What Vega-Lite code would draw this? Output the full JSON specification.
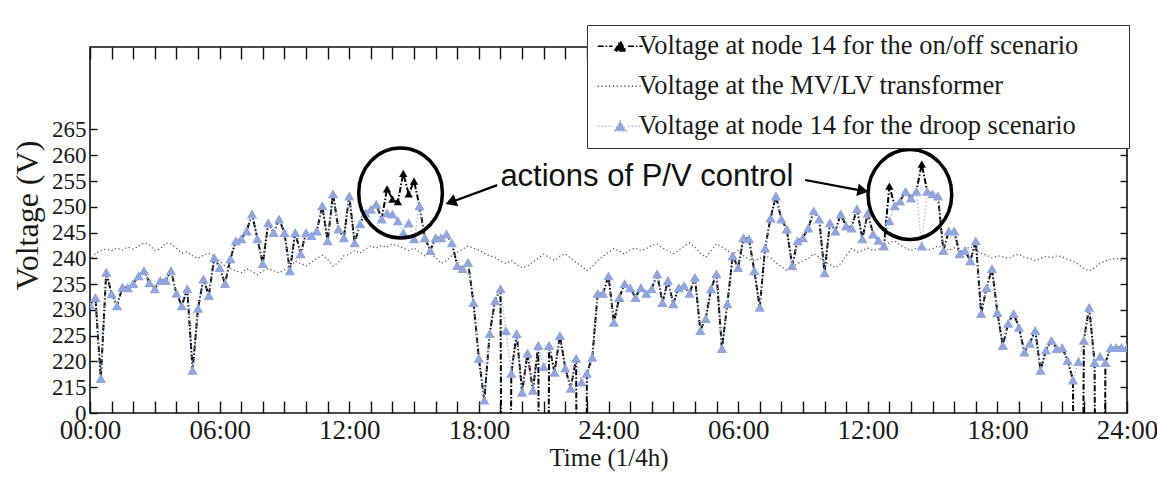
{
"$schema": "https://vega.github.io/schema/vega-lite/v6.json",
"width": 1037, "height": 366,
"autosize": "none",
"padding": {"left": 90, "top": 47, "right": 30, "bottom": 68},
"background": "white",
"config": {"view": {"stroke": "#111", "strokeWidth": 1.6}, "font": "Liberation Serif"},
"data": {"values": [
{"t":0,"o":231,"d":231,"m":239.5},{"t":1,"o":232.4,"d":232.4,"m":241},{"t":2,"o":216.7,"d":216.7,"m":241.5},{"t":3,"o":237.3,"d":237.3,"m":241.8},{"t":4,"o":233.1,"d":233.1,"m":241.5},{"t":5,"o":230.8,"d":230.8,"m":242},{"t":6,"o":234.4,"d":234.4,"m":241.6},{"t":7,"o":234.3,"d":234.3,"m":242.2},{"t":8,"o":235.1,"d":235.1,"m":241.8},
{"t":9,"o":236.6,"d":236.6,"m":242.4},{"t":10,"o":237.6,"d":237.6,"m":243},{"t":11,"o":235.3,"d":235.3,"m":242.6},{"t":12,"o":234.1,"d":234.1,"m":241.5},{"t":13,"o":235.7,"d":235.7,"m":241.8},{"t":14,"o":235.7,"d":235.7,"m":243},{"t":15,"o":237.6,"d":237.6,"m":242.8},{"t":16,"o":233.2,"d":233.2,"m":242},
{"t":17,"o":230.8,"d":230.8,"m":241},{"t":18,"o":234.1,"d":234.1,"m":241.3},{"t":19,"o":218.3,"d":218.3,"m":240.5},{"t":20,"o":230.3,"d":230.3,"m":240},{"t":21,"o":236,"d":236,"m":240.6},{"t":22,"o":232.8,"d":232.8,"m":241},{"t":23,"o":240.1,"d":240.1,"m":240.5},{"t":24,"o":238.2,"d":238.2,"m":239.5},
{"t":25,"o":235.1,"d":235.1,"m":238.5},{"t":26,"o":239.9,"d":239.9,"m":238},{"t":27,"o":243.4,"d":243.4,"m":237.6},{"t":28,"o":243.8,"d":243.8,"m":237.2},{"t":29,"o":245.3,"d":245.3,"m":238},{"t":30,"o":248.6,"d":248.6,"m":237.5},{"t":31,"o":243.8,"d":243.8,"m":236.8},{"t":32,"o":239,"d":239,"m":237.5},
{"t":33,"o":246.9,"d":246.9,"m":238},{"t":34,"o":245,"d":245,"m":237.6},{"t":35,"o":247.6,"d":247.6,"m":237.2},{"t":36,"o":245,"d":245,"m":237.8},{"t":37,"o":237.6,"d":237.6,"m":238.3},{"t":38,"o":245,"d":245,"m":239.5},{"t":39,"o":240.9,"d":240.9,"m":239},{"t":40,"o":245,"d":245,"m":238.5},
{"t":41,"o":244.4,"d":244.4,"m":239.2},{"t":42,"o":245.3,"d":245.3,"m":240},{"t":43,"o":250.2,"d":250.2,"m":240.6},{"t":44,"o":243.4,"d":243.4,"m":239.8},{"t":45,"o":252.5,"d":252.5,"m":238.5},{"t":46,"o":245.7,"d":245.7,"m":239.2},{"t":47,"o":244,"d":244,"m":240.5},{"t":48,"o":252.1,"d":252.1,"m":240.8},
{"t":49,"o":243,"d":243,"m":241.5},{"t":50,"o":246.7,"d":246.7,"m":241},{"t":51,"o":248.8,"d":248.8,"m":241.8},{"t":52,"o":249.5,"d":249.5,"m":242.4},{"t":53,"o":250.5,"d":250.5,"m":242},{"t":54,"o":247.6,"d":247.6,"m":242.5},{"t":55,"o":253.5,"d":248.8,"m":242.2},{"t":56,"o":251.5,"d":248.6,"m":242.8},
{"t":57,"o":251,"d":247.3,"m":242.4},{"t":58,"o":256.5,"d":245,"m":242},{"t":59,"o":252.5,"d":246.9,"m":241.5},{"t":60,"o":255,"d":243.8,"m":242},{"t":61,"o":250.2,"d":250.2,"m":241.2},{"t":62,"o":244,"d":244,"m":240.5},{"t":63,"o":241.5,"d":241.5,"m":241},{"t":64,"o":244,"d":244,"m":240.2},
{"t":65,"o":244,"d":244,"m":239},{"t":66,"o":244.7,"d":244.7,"m":239.5},{"t":67,"o":243,"d":243,"m":240.5},{"t":68,"o":238.6,"d":238.6,"m":241.2},{"t":69,"o":238,"d":238,"m":241.8},{"t":70,"o":239.2,"d":239.2,"m":242.4},{"t":71,"o":231.4,"d":231.4,"m":242},{"t":72,"o":220.6,"d":220.6,"m":241.6},
{"t":73,"o":212.5,"d":212.5,"m":241},{"t":74,"o":225.4,"d":225.4,"m":240.5},{"t":75,"o":231.8,"d":231.8,"m":240.2},{"t":76,"o":234.1,"d":234.1,"m":239.5},{"t":77,"o":0,"d":226,"m":239},{"t":78,"o":217.7,"d":217.7,"m":239.6},{"t":79,"o":225.4,"d":225.4,"m":238.8},{"t":80,"o":214,"d":214,"m":238.2},
{"t":81,"o":221.6,"d":221.6,"m":238.5},{"t":82,"o":214.4,"d":214.4,"m":239.3},{"t":83,"o":223.1,"d":223.1,"m":240},{"t":84,"o":0,"d":219,"m":240.8},{"t":85,"o":223.1,"d":223.1,"m":240.2},{"t":86,"o":217.9,"d":217.9,"m":239.6},{"t":87,"o":225,"d":225,"m":240.4},{"t":88,"o":218.7,"d":218.7,"m":240.9},
{"t":89,"o":214.8,"d":214.8,"m":240},{"t":90,"o":220.6,"d":220.6,"m":239.2},{"t":91,"o":0,"d":216,"m":238.5},{"t":92,"o":217.7,"d":217.7,"m":237.6},{"t":93,"o":220.8,"d":220.8,"m":238.4},{"t":94,"o":233.2,"d":233.2,"m":239.6},{"t":95,"o":233.2,"d":233.2,"m":240.4},{"t":96,"o":236.6,"d":236.6,"m":241.2},
{"t":97,"o":227.6,"d":227.6,"m":241.9},{"t":98,"o":232.4,"d":232.4,"m":241.4},{"t":99,"o":235.1,"d":235.1,"m":240.8},{"t":100,"o":234.3,"d":234.3,"m":241.6},{"t":101,"o":232.4,"d":232.4,"m":242},{"t":102,"o":234.3,"d":234.3,"m":241.5},{"t":103,"o":233.2,"d":233.2,"m":241.9},{"t":104,"o":234.1,"d":234.1,"m":242.5},
{"t":105,"o":237,"d":237,"m":242.8},{"t":106,"o":231.4,"d":231.4,"m":242},{"t":107,"o":235.7,"d":235.7,"m":241.5},{"t":108,"o":231.2,"d":231.2,"m":240.9},{"t":109,"o":234.3,"d":234.3,"m":241.6},{"t":110,"o":234.7,"d":234.7,"m":242.4},{"t":111,"o":233.2,"d":233.2,"m":243},{"t":112,"o":236.3,"d":236.3,"m":242.2},
{"t":113,"o":226,"d":226,"m":241},{"t":114,"o":228.3,"d":228.3,"m":240.2},{"t":115,"o":234.1,"d":234.1,"m":241.5},{"t":116,"o":237,"d":237,"m":242.8},{"t":117,"o":222.5,"d":222.5,"m":242.2},{"t":118,"o":231.2,"d":231.2,"m":241.5},{"t":119,"o":240.5,"d":240.5,"m":240.8},{"t":120,"o":238.2,"d":238.2,"m":241.5},
{"t":121,"o":244,"d":244,"m":240.5},{"t":122,"o":243.8,"d":243.8,"m":239.8},{"t":123,"o":237.6,"d":237.6,"m":239.5},{"t":124,"o":230.5,"d":230.5,"m":240},{"t":125,"o":242,"d":242,"m":240.4},{"t":126,"o":247.8,"d":247.8,"m":240.1},{"t":127,"o":252.1,"d":252.1,"m":239.2},{"t":128,"o":247.6,"d":247.6,"m":238.4},
{"t":129,"o":245.7,"d":245.7,"m":237.6},{"t":130,"o":238.6,"d":238.6,"m":238.3},{"t":131,"o":243.4,"d":243.4,"m":239},{"t":132,"o":244,"d":244,"m":239.5},{"t":133,"o":245.9,"d":245.9,"m":240},{"t":134,"o":249.2,"d":249.2,"m":240.9},{"t":135,"o":247.6,"d":247.6,"m":240.2},{"t":136,"o":237.2,"d":237.2,"m":239.3},
{"t":137,"o":246.9,"d":246.9,"m":238.8},{"t":138,"o":245.3,"d":245.3,"m":238.2},{"t":139,"o":248.6,"d":248.6,"m":239},{"t":140,"o":246.3,"d":246.3,"m":240.5},{"t":141,"o":245.9,"d":245.9,"m":241.9},{"t":142,"o":249.6,"d":249.6,"m":241.2},{"t":143,"o":243.8,"d":243.8,"m":241.5},{"t":144,"o":248.8,"d":248.8,"m":242},
{"t":145,"o":244.7,"d":244.7,"m":241.5},{"t":146,"o":243.5,"d":243.5,"m":241.8},{"t":147,"o":242.4,"d":242.4,"m":242.4},{"t":148,"o":254,"d":247.3,"m":243},{"t":149,"o":250.2,"d":250.2,"m":243.4},{"t":150,"o":251.1,"d":251.1,"m":242.6},{"t":151,"o":253,"d":253,"m":242},{"t":152,"o":251.7,"d":251.7,"m":241.5},
{"t":153,"o":253,"d":253,"m":242},{"t":154,"o":258.3,"d":242.4,"m":242.2},{"t":155,"o":253,"d":253,"m":241.6},{"t":156,"o":252.5,"d":252.5,"m":241.9},{"t":157,"o":252.1,"d":252.1,"m":242.4},{"t":158,"o":241.5,"d":241.5,"m":242},{"t":159,"o":245.3,"d":245.3,"m":241.6},{"t":160,"o":245.3,"d":245.3,"m":242},
{"t":161,"o":240.9,"d":240.9,"m":241.4},{"t":162,"o":241.5,"d":241.5,"m":241.8},{"t":163,"o":239.5,"d":239.5,"m":242.2},{"t":164,"o":243.4,"d":243.4,"m":241.6},{"t":165,"o":229.3,"d":229.3,"m":241},{"t":166,"o":234.3,"d":234.3,"m":240.6},{"t":167,"o":238,"d":238,"m":240.1},{"t":168,"o":229.5,"d":229.5,"m":240.5},
{"t":169,"o":223.1,"d":223.1,"m":240.3},{"t":170,"o":227.4,"d":227.4,"m":240},{"t":171,"o":229.3,"d":229.3,"m":240.5},{"t":172,"o":226.6,"d":226.6,"m":240.8},{"t":173,"o":221.8,"d":221.8,"m":240.2},{"t":174,"o":223.5,"d":223.5,"m":240},{"t":175,"o":226,"d":226,"m":239.6},{"t":176,"o":218.3,"d":218.3,"m":240},
{"t":177,"o":222.2,"d":222.2,"m":240.4},{"t":178,"o":224.1,"d":224.1,"m":240.1},{"t":179,"o":222.5,"d":222.5,"m":240.5},{"t":180,"o":222.7,"d":222.7,"m":240.3},{"t":181,"o":220.2,"d":220.2,"m":239.8},{"t":182,"o":216.4,"d":216.4,"m":239.5},{"t":183,"o":0,"d":220,"m":238.8},{"t":184,"o":224.1,"d":224.1,"m":238},
{"t":185,"o":230.5,"d":230.5,"m":237.6},{"t":186,"o":219.8,"d":219.8,"m":238.2},{"t":187,"o":0,"d":221,"m":239},{"t":188,"o":219.8,"d":219.8,"m":239.5},{"t":189,"o":222.7,"d":222.7,"m":239.8},{"t":190,"o":222.7,"d":222.7,"m":240},{"t":191,"o":222.7,"d":222.7,"m":239.6},{"t":192,"o":222.7,"d":222.7,"m":240}
]},
"layer": [
{
 "transform": [{"fold": ["o","m","d"], "as": ["s","v"]}, {"filter": "datum.s == 'm'"}],
 "mark": {"type": "line", "strokeWidth": 1.3, "clip": true},
 "encoding": {
  "x": {"field": "t", "type": "quantitative", "scale": {"domain": [0,192], "nice": false, "zero": false},
   "axis": {"orient": "bottom", "values": [0,4,8,12,16,20,24,28,32,36,40,44,48,52,56,60,64,68,72,76,80,84,88,92,96,100,104,108,112,116,120,124,128,132,136,140,144,148,152,156,160,164,168,172,176,180,184,188,192],
    "labelExpr": "datum.value % 24 != 0 ? '' : datum.value == 0 ? '00:00' : datum.value % 96 == 0 ? '24:00' : ((datum.value % 96) / 4 < 10 ? '0' : '') + ((datum.value % 96) / 4) + ':00'",
    "tickSize": -12, "tickColor": "#111", "tickWidth": 1.4, "domain": false, "grid": false,
    "labelFont": "Liberation Serif", "labelFontSize": 27, "labelColor": "#1a1a1a", "labelPadding": 16, "labelOverlap": false, "labelFlush": false,
    "title": "Time (1/4h)", "titleFont": "Liberation Serif", "titleFontSize": 25, "titleFontWeight": "normal", "titleColor": "#1a1a1a", "titlePadding": 2}},
  "y": {"field": "v", "type": "quantitative", "scale": {"domain": [210,281], "nice": false, "zero": false},
   "axis": {"orient": "left", "values": [210,215,220,225,230,235,240,245,250,255,260,265],
    "labelExpr": "datum.value == 210 ? '0' : datum.label",
    "tickSize": -7, "tickColor": "#111", "tickWidth": 1.4, "domain": false, "grid": false,
    "labelFont": "Liberation Serif", "labelFontSize": 23, "labelColor": "#1a1a1a", "labelPadding": 11, "labelOverlap": false, "labelFlush": false,
    "title": "Voltage (V)", "titleFont": "Liberation Serif", "titleFontSize": 32, "titleFontWeight": "normal", "titleColor": "#1a1a1a",
    "titleX": -63, "titleY": 168, "titleAngle": -90, "titleBaseline": "middle", "titleAlign": "center"}},
  "color": {"field": "s", "type": "nominal",
   "scale": {"domain": ["o","m","d"], "range": ["#000000","#555555","#91a5de"]},
   "legend": {"orient": "none", "legendX": 497, "legendY": -22, "direction": "vertical",
    "title": "\u00a0", "titleOrient": "right", "titlePadding": 43, "titleFontSize": 10,
    "labelExpr": "datum.value == 'o' ? 'Voltage at node 14 for the on/off scenario' : datum.value == 'm' ? 'Voltage at the MV/LV transformer' : 'Voltage at node 14 for the droop scenario'",
    "labelFont": "Liberation Serif", "labelFontSize": 26.5, "labelColor": "#1a1a1a", "labelLimit": 800,
    "symbolType": "M-2.2,0H-0.75M0.75,0H2.2M-0.55,0.45L0,-0.5L0.55,0.45Z",
    "symbolSize": 420, "symbolStrokeWidth": 1.6, "symbolOffset": 12, "labelOffset": 5,
    "rowPadding": 13, "padding": 8, "strokeColor": "#333", "fillColor": "white",
    "encoding": {"symbols": {
      "fill": {"value": {"expr": "datum.value == 'o' ? '#000000' : datum.value == 'd' ? '#91a5de' : 'transparent'"}},
      "shape": {"value": {"expr": "datum.value == 'm' ? 'M-2.2,0H2.2' : 'M-2.2,0H-0.75M0.75,0H2.2M-0.55,0.45L0,-0.5L0.55,0.45Z'"}},
      "strokeDash": {"value": {"expr": "datum.value == 'o' ? [6,2,1.5,2] : [1.2,2.4]"}}
    }}}},
  "strokeDash": {"field": "s", "type": "nominal", "legend": null,
   "scale": {"domain": ["o","m","d"], "range": [[6,2,1.5,2],[1.2,2.6],[1.2,2.4]]}}
 }
},
{
 "transform": [{"fold": ["o","m","d"], "as": ["s","v"]}, {"filter": "datum.s == 'o'"}],
 "mark": {"type": "line", "strokeWidth": 2, "clip": true},
 "encoding": {
  "x": {"field": "t", "type": "quantitative", "scale": {"domain": [0,192], "nice": false, "zero": false}, "axis": null},
  "y": {"field": "v", "type": "quantitative", "scale": {"domain": [210,281], "nice": false, "zero": false}, "axis": null},
  "color": {"field": "s", "type": "nominal"},
  "strokeDash": {"field": "s", "type": "nominal", "legend": null}
 }
},
{
 "transform": [{"fold": ["o","m","d"], "as": ["s","v"]}, {"filter": "datum.s == 'o'"}],
 "mark": {"type": "point", "shape": "triangle-up", "filled": true, "size": 70, "color": "#000000", "opacity": 1, "clip": true},
 "encoding": {
  "x": {"field": "t", "type": "quantitative", "scale": {"domain": [0,192], "nice": false, "zero": false}, "axis": null},
  "y": {"field": "v", "type": "quantitative", "scale": {"domain": [210,281], "nice": false, "zero": false}, "axis": null}
 }
},
{
 "transform": [{"fold": ["o","m","d"], "as": ["s","v"]}, {"filter": "datum.s == 'd'"}],
 "mark": {"type": "line", "strokeWidth": 1.2, "clip": true},
 "encoding": {
  "x": {"field": "t", "type": "quantitative", "scale": {"domain": [0,192], "nice": false, "zero": false},
   "axis": {"orient": "top", "values": [0,4,8,12,16,20,24,28,32,36,40,44,48,52,56,60,64,68,72,76,80,84,88,92,96,100,104,108,112,116,120,124,128,132,136,140,144,148,152,156,160,164,168,172,176,180,184,188,192],
    "labels": false, "tickSize": -12, "tickColor": "#111", "tickWidth": 1.4, "domain": false, "grid": false, "title": null}},
  "y": {"field": "v", "type": "quantitative", "scale": {"domain": [210,281], "nice": false, "zero": false},
   "axis": {"orient": "right", "values": [215,220,225,230,235,240,245,250,255,260,265],
    "labels": false, "tickSize": -7, "tickColor": "#111", "tickWidth": 1.4, "domain": false, "grid": false, "title": null}},
  "color": {"field": "s", "type": "nominal"},
  "strokeDash": {"field": "s", "type": "nominal", "legend": null}
 }
},
{
 "transform": [{"fold": ["o","m","d"], "as": ["s","v"]}, {"filter": "datum.s == 'd'"}],
 "mark": {"type": "point", "shape": "triangle-up", "filled": true, "size": 105, "color": "#91a5de", "opacity": 1, "clip": true},
 "encoding": {
  "x": {"field": "t", "type": "quantitative", "scale": {"domain": [0,192], "nice": false, "zero": false}, "axis": null},
  "y": {"field": "v", "type": "quantitative", "scale": {"domain": [210,281], "nice": false, "zero": false}, "axis": null}
 }
},
{
 "data": {"values": [{"t": 57.5, "v": 252.7}, {"t": 151.8, "v": 252.4}]},
 "mark": {"type": "point", "shape": "M0,-1A0.93,1,0,1,1,0,1A0.93,1,0,1,1,0,-1Z", "filled": false, "size": 8100, "color": "#000000", "strokeWidth": 3.5, "opacity": 1},
 "encoding": {
  "x": {"field": "t", "type": "quantitative", "scale": {"domain": [0,192], "nice": false, "zero": false}, "axis": null},
  "y": {"field": "v", "type": "quantitative", "scale": {"domain": [210,281], "nice": false, "zero": false}, "axis": null}
 }
},
{
 "data": {"values": [{"t": 75.4, "v": 254.2, "t2": 66.8, "v2": 250.9}, {"t": 132.4, "v": 255.2, "t2": 143.1, "v2": 253.1}]},
 "mark": {"type": "rule", "color": "#000000", "strokeWidth": 2.2},
 "encoding": {
  "x": {"field": "t", "type": "quantitative", "scale": {"domain": [0,192], "nice": false, "zero": false}, "axis": null},
  "y": {"field": "v", "type": "quantitative", "scale": {"domain": [210,281], "nice": false, "zero": false}, "axis": null},
  "x2": {"field": "t2"},
  "y2": {"field": "v2"}
 }
},
{
 "data": {"values": [{"t": 66.8, "v": 250.9}]},
 "mark": {"type": "point", "shape": "triangle-right", "filled": true, "size": 160, "color": "#000000", "opacity": 1, "angle": 159.6},
 "encoding": {
  "x": {"field": "t", "type": "quantitative", "scale": {"domain": [0,192], "nice": false, "zero": false}, "axis": null},
  "y": {"field": "v", "type": "quantitative", "scale": {"domain": [210,281], "nice": false, "zero": false}, "axis": null}
 }
},
{
 "data": {"values": [{"t": 143.1, "v": 253.1}]},
 "mark": {"type": "point", "shape": "triangle-right", "filled": true, "size": 160, "color": "#000000", "opacity": 1, "angle": 10.8},
 "encoding": {
  "x": {"field": "t", "type": "quantitative", "scale": {"domain": [0,192], "nice": false, "zero": false}, "axis": null},
  "y": {"field": "v", "type": "quantitative", "scale": {"domain": [210,281], "nice": false, "zero": false}, "axis": null}
 }
},
{
 "data": {"values": [{"t": 103.1, "v": 255.8, "label": "actions of P/V control"}]},
 "mark": {"type": "text", "font": "Liberation Sans", "fontSize": 31, "color": "#111111", "align": "center", "baseline": "middle"},
 "encoding": {
  "x": {"field": "t", "type": "quantitative", "scale": {"domain": [0,192], "nice": false, "zero": false}, "axis": null},
  "y": {"field": "v", "type": "quantitative", "scale": {"domain": [210,281], "nice": false, "zero": false}, "axis": null},
  "text": {"field": "label"}
 }
}
],
"resolve": {"axis": {"x": "independent", "y": "independent"}}
}
